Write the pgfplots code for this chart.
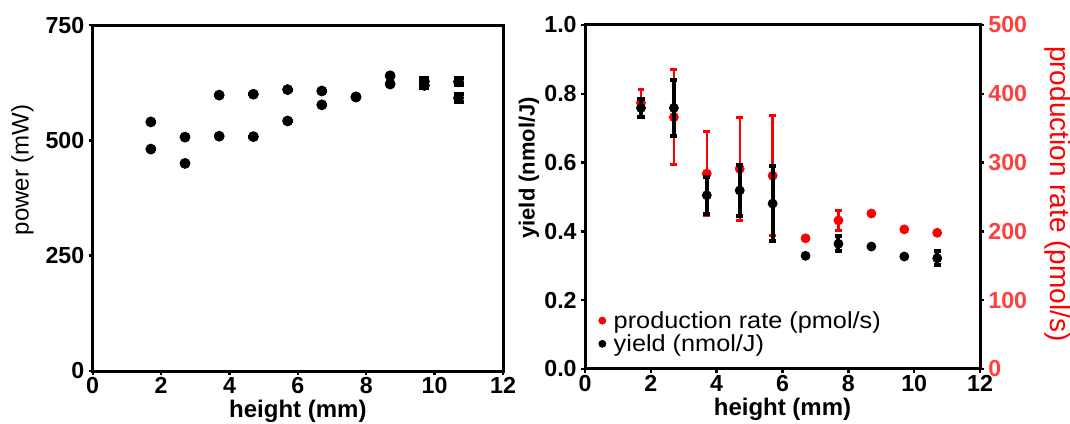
\documentclass[border=0pt]{standalone}
\usepackage{fontspec}
\setmainfont{Liberation Sans}
\newfontfamily\legfont[FakeStretch=1.09]{Liberation Sans}
\usepackage{pgfplots}
\usepackage{pgfplotstable}
\pgfplotsset{compat=1.18}
\definecolor{tickred}{RGB}{255,64,64}

\pgfplotstableread{
x y e
1.7 540 0
2.7 507 0
3.7 598 0
4.7 600 0
5.7 610 0
6.7 607 0
7.7 594 0
8.7 640 0
9.7 628 7
10.7 627 8
}\powerA
\pgfplotstableread{
x y e
1.7 481 0
2.7 450 0
3.7 509 0
4.7 508 0
5.7 542 0
6.7 577 0
7.7 594 0
8.7 622 0
9.7 619 6
10.7 592 8
}\powerB
\pgfplotstableread{
x y e
1.7 0.759 0.025
2.7 0.759 0.081
3.7 0.505 0.053
4.7 0.519 0.074
5.7 0.481 0.110
6.7 0.329 0
7.7 0.364 0.022
8.7 0.356 0
9.7 0.327 0
10.7 0.322 0.020
}\yield
\pgfplotstableread{
x y e
1.7 387 19.5
2.7 366 69
3.7 284 61
4.7 291 75
5.7 281 87
6.7 190 0
7.7 216 15
8.7 226 0
9.7 203 0
10.7 198 0
}\rate

\pgfplotsset{
  common/.style={
    scale only axis,
    anchor=south west,
    xmin=0, xmax=12,
    xtick={0,2,...,12},
    axis line style={line width=1.5pt},
    tick style={line width=1.2pt, black},
    major tick length=2pt,
    tick align=outside,
    ticklabel style={font=\bfseries\fontsize{11.6}{13}\selectfont},
    xticklabel style={inner sep=1pt},
    yticklabel style={inner sep=2pt},
    /pgf/number format/assume math mode=true,
    xlabel style={font=\bfseries\fontsize{12}{14}\selectfont, at={(axis description cs:0.5,0)}, anchor=base, yshift=-23.4pt},
  },
}

\begin{document}
\begin{tikzpicture}
% left panel
\begin{axis}[common,
  at={(46.35pt,26pt)}, width=205.15pt, height=173pt,
  ymin=0, ymax=750, ytick={0,250,500,750},
  tick pos=left,
  xlabel={height (mm)},
  ylabel={power (mW)},
  ylabel style={font=\fontsize{12}{14}\selectfont, at={(axis description cs:-0.171,0.581)}, anchor=center},
]
\addplot[only marks, mark=*, mark size=2.5pt, black,
  error bars/.cd, y dir=both, y explicit,
  error bar style={line width=2pt, black},
  error mark options={rotate=90, line width=2pt, mark size=2.5pt, black}]
  table[x=x, y=y, y error=e] {\powerA};
\addplot[only marks, mark=*, mark size=2.5pt, black,
  error bars/.cd, y dir=both, y explicit,
  error bar style={line width=2pt, black},
  error mark options={rotate=90, line width=2pt, mark size=2.5pt, black}]
  table[x=x, y=y, y error=e] {\powerB};
\end{axis}

% right panel, red axis (production rate)
\begin{axis}[common,
  at={(292.5pt,27pt)}, width=197.5pt, height=172pt,
  axis x line=none,
  axis y line*=right,
  ymin=0, ymax=500, ytick={0,100,...,500},
  yticklabel style={color=tickred},
  ylabel={production rate (pmol/s)},
  ylabel style={font=\fontsize{14}{16}\selectfont, color=red, at={(axis description cs:1.197,0.509)}, anchor=center, rotate=180},
]
\addplot[only marks, mark=*, mark size=2.25pt, red,
  error bars/.cd, y dir=both, y explicit,
  error bar style={line width=1.2pt, red},
  error mark options={rotate=90, line width=1.5pt, mark size=1.7pt, red}]
  table[x=x, y=y, y error=e] {\rate};
\end{axis}

% right panel, black axis (yield)
\begin{axis}[common,
  at={(292.5pt,27pt)}, width=197.5pt, height=172pt,
  ymin=0, ymax=1, ytick={0,0.2,...,1.0},
  tick pos=left,
  yticklabel style={/pgf/number format/fixed, /pgf/number format/fixed zerofill, /pgf/number format/precision=1},
  xlabel={height (mm)},
  ylabel={yield (nmol/J)},
  ylabel style={font=\bfseries\fontsize{11}{12}\selectfont, at={(axis description cs:-0.142,0.585)}, anchor=center},
  legend style={draw=none, fill=none, at={(axis description cs:0.033,0.036)}, anchor=south west,
    font=\legfont\fontsize{11.6}{12}\selectfont, row sep=-0.3pt, inner sep=0pt, nodes={inner sep=1pt, anchor=base west}},
  legend cell align=left,
  legend image code/.code={\path (-1.75pt,0pt) (4.5pt,0pt); \draw[#1] plot coordinates {(0pt,0.13cm)};},
]
\addlegendimage{only marks, mark=*, mark size=1.75pt, red}
\addlegendentry{production rate (pmol/s)}
\addlegendimage{only marks, mark=*, mark size=1.75pt, black}
\addlegendentry{yield (nmol/J)}
\addplot[forget plot, only marks, mark=*, mark size=2.25pt, black,
  error bars/.cd, y dir=both, y explicit,
  error bar style={line width=2pt, black},
  error mark options={rotate=90, line width=2pt, mark size=1.8pt, black}]
  table[x=x, y=y, y error=e] {\yield};
\end{axis}
\pgfresetboundingbox
\useasboundingbox (0,0) rectangle (535pt,211.5pt);
\end{tikzpicture}
\end{document}
